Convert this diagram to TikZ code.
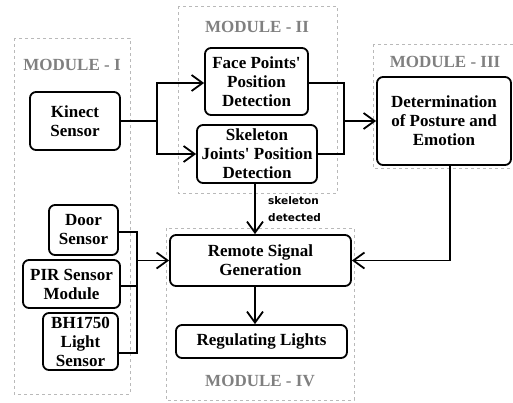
\documentclass[tikz,border=0pt]{standalone}
\usepackage{fontspec}
\setmainfont{Liberation Serif}
\newfontfamily\notefont{DejaVu Sans}
\usetikzlibrary{arrows.meta,positioning,calc}

\begin{document}
\begin{tikzpicture}
[x=1pt,y=-1pt,
block/.style={draw,line width=1.8pt,rounded corners=6pt,align=center,inner sep=0pt,
  font=\fontsize{17}{19}\selectfont\bfseries},
module/.style={draw=gray!55,dashed,line width=1pt},
modlabel/.style={text=gray,font=\fontsize{17}{18}\selectfont\bfseries},
link/.style={line width=1.8pt},
flow/.style={link,-{Straight Barb[length=11pt,width=16pt]}}]
\useasboundingbox (0,0) rectangle (513,402);
%%
% module frames
%%
\draw[module] (14,38) rectangle (130,394);
\draw[module] (178,6) rectangle (337,193);
\draw[module] (373,44) rectangle (514,168);
\draw[module] (166,228) rectangle (354,400);
\node[modlabel] (mod1) at (72,65) {MODULE - I};
\node[modlabel] (mod2) at (257,27) {MODULE - II};
\node[modlabel] (mod3) at (445,62) {MODULE - III};
\node[modlabel] (mod4) at (260,381) {MODULE - IV};
%%
% Module I
%%
\node[block,minimum width=90,minimum height=58] (kinect) at (75,121) {Kinect\\Sensor};
\node[block,minimum width=69,minimum height=50] (door) at (83.5,230) {Door\\Sensor};
\node[block,minimum width=97,minimum height=48] (pir) at (71.5,284) {PIR Sensor\\Module};
\node[block,minimum width=75,minimum height=57] (bh) at (80.5,341.5) {BH1750\\Light\\Sensor};
%%
% Module II
%%
\node[block,minimum width=103,minimum height=67] (face) at (256.5,81.5) {Face Points\textquotesingle\\Position\\Detection};
\node[block,minimum width=120,minimum height=58] (skel) at (257,154) {Skeleton\\Joints\textquotesingle{} Position\\Detection};
%%
% Module III
%%
\node[block,minimum width=134,minimum height=88] (determ) at (444,121) {Determination\\of Posture and\\Emotion};
%%
% Module IV
%%
\node[block,minimum width=181,minimum height=51] (remote) at (260.5,260.5) {Remote Signal\\Generation};
\node[block,minimum width=171,minimum height=33] (reg) at (261.5,341.5) {Regulating Lights};
%%
% branch points
%%
\coordinate (ksplit) at (kinect.east -| 157,0);
\coordinate (mjoin) at (determ.west -| 344,0);
\coordinate (sjoin) at (remote.west -| 137,0);
%%
% connectors
%%
\draw[link] (kinect.east) -- (ksplit);
\draw[flow] (ksplit) |- ([yshift=-1.5pt]face.west);
\draw[flow] (ksplit) |- (skel.west);
\draw[link] ([yshift=-1.5pt]face.east) -| (mjoin);
\draw[link] (skel.east) -| (mjoin);
\draw[flow] (mjoin) -- (determ.west);
\draw[flow] ([xshift=-2pt]skel.south) -- ([xshift=-2pt]skel.south |- remote.north)
  node[midway,right,xshift=9pt,align=left,font=\notefont\fontsize{10.5}{17}\selectfont\bfseries]
  {skeleton\\detected};
\draw[flow] ([xshift=6pt]determ.south) |- (remote.east);
\draw[link] ([yshift=-2pt]door.east) -| (sjoin);
\draw[link] ([yshift=-2pt]pir.east) -| (sjoin);
\draw[link] ([yshift=-11.5pt]bh.east) -| (sjoin);
\draw[flow] (sjoin) -- (remote.west);
\draw[flow] ([xshift=-5.5pt]remote.south) -- ([xshift=-5.5pt]remote.south |- reg.north);
\end{tikzpicture}
\end{document}
